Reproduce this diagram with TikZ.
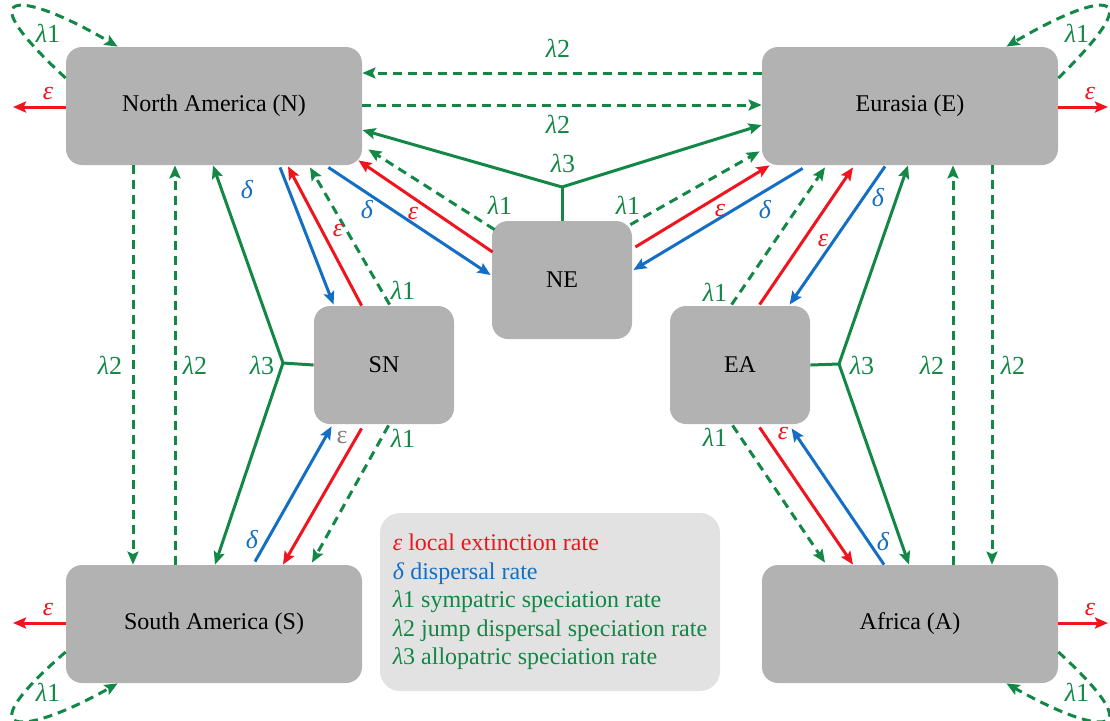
\documentclass[tikz,border=0pt]{standalone}
\usepackage{fontspec}
\setmainfont{Liberation Serif}
\usetikzlibrary{arrows.meta,calc}
\definecolor{spgreen}{RGB}{18,135,70}
\definecolor{exred}{RGB}{240,20,30}
\definecolor{dpblue}{RGB}{20,110,195}
\definecolor{boxgray}{RGB}{178,178,178}
\definecolor{leggray}{RGB}{226,226,226}
\newcommand{\lmb}[1]{\textit{λ}#1}
\tikzset{
  area/.style={fill=boxgray, rounded corners=8pt, inner sep=0pt, minimum width=148pt, minimum height=59pt, font=\fontsize{12}{14}\selectfont},
  subarea/.style={area, minimum width=70pt},
  arr/.style={-{Stealth[length=6.5pt,width=5.5pt,inset=1.2pt]}},
  ext/.style={arr, exred, line width=1.5pt},
  disp/.style={arr, dpblue, line width=1.5pt},
  sym/.style={arr, spgreen, line width=1.5pt, dash pattern=on 4.5pt off 3pt},
  allo/.style={arr, spgreen, line width=1.5pt},
  rate/.style={font=\fontsize{13}{13}\selectfont, inner sep=0pt},
}
\begin{document}
\begin{tikzpicture}[x=0.5pt,y=-0.5pt]
    \useasboundingbox (0,0) rectangle (1110,720);

    % 四个大区
    \node[area] (N) at (214,106) {North America (N)};
    \node[area] (E) at (910,106) {Eurasia (E)};
    \node[area] (S) at (214,624) {South America (S)};
    \node[area] (A) at (910,624) {Africa (A)};
    % 两区共有
    \node[subarea] (NE) at (562,280) {NE};
    \node[subarea] (SN) at (384,365) {SN};
    \node[subarea] (EA) at (740,365) {EA};

    % 图例
    \node[fill=leggray, rounded corners=10pt, minimum width=170pt, minimum height=89pt,
          align=left, font=\fontsize{12}{14.3}\selectfont] (leg) at (550,602)
        {\textcolor{exred}{\textit{ε} local extinction rate}\\
         \textcolor{dpblue}{\textit{δ} dispersal rate}\\
         \textcolor{spgreen}{\lmb1 sympatric speciation rate}\\
         \textcolor{spgreen}{\lmb2 jump dispersal speciation rate}\\
         \textcolor{spgreen}{\lmb3 allopatric speciation rate}};

    % 灭绝
    \foreach \b/\a/\x/\y/\lx in {N/west/13/107/48, E/east/1108/107/1090, S/west/13/623/48, A/east/1108/623/1090} {
        \coordinate (\b-out) at (\x,\y);
        \draw[ext] (\b.\a |- \b-out) -- (\b-out);
        \node[rate, exred] (\b-eps) at (\lx,\y-14) {\textit{ε}};
    }

    % 同域物种形成（自环）
    \draw[sym] ($(N.west)+(0,-28)$) .. controls +(-106,-98) and +(-88,-52) .. ($(N.north west)+(52,0)$);
    \draw[sym] ($(E.east)+(0,-28)$) .. controls +(100,-98) and +(88,-52) .. ($(E.north east)+(-52,0)$);
    \draw[sym] ($(S.west)+(0,28)$) .. controls +(-106,92) and +(-88,50) .. ($(S.south west)+(52,0)$);
    \draw[sym] ($(A.east)+(0,28)$) .. controls +(100,92) and +(88,50) .. ($(A.south east)+(-52,0)$);
    \node[rate, spgreen] (N-l1) at (48,33) {\lmb1};
    \node[rate, spgreen] (E-l1) at (1077,33) {\lmb1};
    \node[rate, spgreen] (S-l1) at (48,692) {\lmb1};
    \node[rate, spgreen] (A-l1) at (1077,692) {\lmb1};

    % N -- E
    \draw[sym] ($(E.west)+(0,-33)$) -- ($(N.east)+(0,-33)$);
    \draw[sym] ($(N.east)+(0,-1)$) -- ($(E.west)+(0,-1)$);
    \node[rate, spgreen] (NE-l2a) at (558,48) {\lmb2};
    \node[rate, spgreen] (NE-l2b) at (558,124) {\lmb2};
    \coordinate (J1) at (562,187);
    \draw[allo,-] (J1) -- (NE.north);
    \draw[allo] (J1) -- ($(N.east)+(0,24)$);
    \draw[allo] (J1) -- ($(E.west)+(0,19)$);
    \node[rate, spgreen] (NE-l3) at (563,163) {\lmb3};

    % NE 与 N, E
    \draw[sym] ($(NE.north west)+(3,9)$) -- ($(N.south east)+(6,-16)$);
    \draw[ext] ($(NE.west)+(1,-28)$) -- ($(N.south east)+(-4,-5)$);
    \draw[disp] ($(N.south east)+(-34,2)$) -- ($(NE.west)+(-1,-5)$);
    \node[rate, spgreen] (NEN-l1) at (500,205) {\lmb1};
    \node[rate, exred] (NEN-eps) at (413,213) {\textit{ε}};
    \node[rate, dpblue] (NEN-del) at (367,210) {\textit{δ}};
    \draw[sym] ($(NE.north east)+(-2,4)$) -- ($(E.south west)+(-2,-14)$);
    \draw[ext] ($(NE.east)+(3,-33)$) -- ($(E.south west)+(8,0)$);
    \draw[disp] ($(E.south west)+(41,3)$) -- ($(NE.east)+(1,-10)$);
    \node[rate, spgreen] (NEE-l1) at (628,205) {\lmb1};
    \node[rate, exred] (NEE-eps) at (720,210) {\textit{ε}};
    \node[rate, dpblue] (NEE-del) at (765,210) {\textit{δ}};

    % N -- S
    \draw[sym] ($(N.south)+(-81,0)$) -- ($(S.north)+(-81,0)$);
    \draw[sym] ($(S.north)+(-39,0)$) -- ($(N.south)+(-39,0)$);
    \node[rate, spgreen] (NS-l2a) at (110,365) {\lmb2};
    \node[rate, spgreen] (NS-l2b) at (195,365) {\lmb2};
    \coordinate (J2) at (283,363);
    \draw[allo,-] (J2) -- (SN.west);
    \draw[allo] (J2) -- ($(N.south)+(-1,0)$);
    \draw[allo] (J2) -- ($(S.north)+(1,0)$);
    \node[rate, spgreen] (NS-l3) at (262,365) {\lmb3};

    % SN 与 N, S
    \draw[disp] ($(N.south)+(66,2)$) -- ($(SN.north west)+(20,-1)$);
    \draw[ext] ($(SN.north west)+(48,0)$) -- ($(N.south)+(74,1)$);
    \draw[sym] ($(SN.north west)+(76,-1)$) -- ($(N.south)+(96,2)$);
    \node[rate, dpblue] (SNN-del) at (247,190) {\textit{δ}};
    \node[rate, exred] (SNN-eps) at (338,230) {\textit{ε}};
    \node[rate, spgreen] (SNN-l1) at (403,290) {\lmb1};
    \draw[disp] ($(S.north)+(41,-3)$) -- ($(SN.south west)+(18,2)$);
    \draw[ext] ($(SN.south west)+(48,4)$) -- ($(S.north)+(69,0)$);
    \draw[sym] ($(SN.south west)+(75,1)$) -- ($(S.north)+(98,-2)$);
    \node[rate, dpblue] (SNS-del) at (252,540) {\textit{δ}};
    \node[rate, gray] (SNS-eps) at (342,437) {ε};
    \node[rate, spgreen] (SNS-l1) at (403,438) {\lmb1};

    % E -- A
    \draw[sym] ($(A.north)+(43,0)$) -- ($(E.south)+(43,0)$);
    \draw[sym] ($(E.south)+(82,0)$) -- ($(A.north)+(82,0)$);
    \node[rate, spgreen] (EA-l2a) at (932,365) {\lmb2};
    \node[rate, spgreen] (EA-l2b) at (1013,365) {\lmb2};
    \coordinate (J3) at (839,364);
    \draw[allo,-] (J3) -- (EA.east);
    \draw[allo] (J3) -- ($(E.south)+(-2,0)$);
    \draw[allo] (J3) -- ($(A.north)+(-1,0)$);
    \node[rate, spgreen] (EA-l3) at (862,365) {\lmb3};

    % EA 与 E, A
    \draw[sym] ($(EA.north west)+(62,-1)$) -- ($(E.south)+(-85,2)$);
    \draw[ext] ($(EA.north west)+(90,-1)$) -- ($(E.south)+(-57,2)$);
    \draw[disp] ($(E.south)+(-25,1)$) -- ($(EA.north west)+(120,-1)$);
    \node[rate, spgreen] (EAE-l1) at (715,292) {\lmb1};
    \node[rate, exred] (EAE-eps) at (823,240) {\textit{ε}};
    \node[rate, dpblue] (EAE-del) at (878,198) {\textit{δ}};
    \draw[sym] ($(EA.south west)+(63,1)$) -- ($(A.north)+(-85,-2)$);
    \draw[ext] ($(EA.south west)+(90,3)$) -- ($(A.north)+(-57,0)$);
    \draw[disp] ($(A.north)+(-26,0)$) -- ($(EA.south west)+(122,4)$);
    \node[rate, spgreen] (EAA-l1) at (715,437) {\lmb1};
    \node[rate, exred] (EAA-eps) at (783,433) {\textit{ε}};
    \node[rate, dpblue] (EAA-del) at (883,542) {\textit{δ}};
\end{tikzpicture}
\end{document}
